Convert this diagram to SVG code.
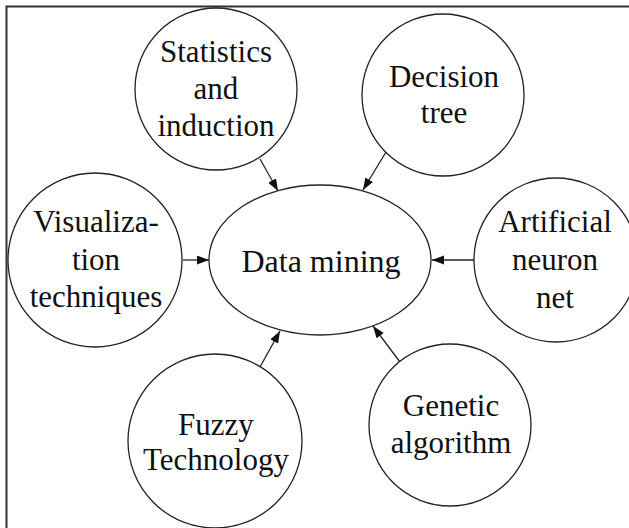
<svg xmlns="http://www.w3.org/2000/svg" width="629" height="528" viewBox="0 0 629 528">
  <style>
    .node { fill: #ffffff; stroke: #222222; stroke-width: 1.3; }
    .label { font-size: 31px; fill: #111111; text-anchor: middle; }
    .edge { stroke: #222222; stroke-width: 1.3; fill: none; marker-end: url(#arrow); }
    .frame { stroke: #333333; stroke-width: 2; fill: none; }
  </style>
  <defs>
    <marker id="arrow" markerUnits="userSpaceOnUse" markerWidth="13" markerHeight="10" refX="12" refY="4.5" orient="auto">
      <path d="M0,0 L12,4.5 L0,9 Z" fill="#111111"/>
    </marker>
  </defs>

  <rect width="629" height="528" fill="#ffffff"/>
  <!-- outer frame (top and left sides) -->
  <path class="frame" d="M6.5,528 L6.5,6.5 L629,6.5"/>

  <g id="connectors">
    <line class="edge" x1="260" y1="159" x2="278" y2="191"/>
    <line class="edge" x1="386" y1="152" x2="363" y2="190"/>
    <line class="edge" x1="183" y1="260" x2="209" y2="260"/>
    <line class="edge" x1="474" y1="260" x2="432" y2="260"/>
    <line class="edge" x1="260" y1="367" x2="280" y2="331"/>
    <line class="edge" x1="400" y1="362" x2="373" y2="326"/>
  </g>

  <g id="data-mining">
    <ellipse class="node" cx="320" cy="260" rx="111" ry="75"/>
    <text class="label" x="321" y="272" style="font-family:'Liberation Serif',serif;font-size:32px">Data mining</text>
  </g>

  <g id="statistics">
    <circle class="node" cx="216" cy="89" r="81"/>
    <text class="label" x="216" y="62" style="font-family:'Liberation Serif',serif">Statistics</text>
    <text class="label" x="216" y="99" style="font-family:'Liberation Serif',serif">and</text>
    <text class="label" x="216" y="136" style="font-family:'Liberation Serif',serif">induction</text>
  </g>

  <g id="decision-tree">
    <circle class="node" cx="443" cy="95" r="81"/>
    <text class="label" x="444" y="87" style="font-family:'Liberation Serif',serif">Decision</text>
    <text class="label" x="444" y="123" style="font-family:'Liberation Serif',serif">tree</text>
  </g>

  <g id="visualization">
    <circle class="node" cx="95" cy="260" r="87"/>
    <text class="label" x="96" y="232" style="font-family:'Liberation Serif',serif">Visualiza-</text>
    <text class="label" x="96" y="270" style="font-family:'Liberation Serif',serif">tion</text>
    <text class="label" x="96" y="307" style="font-family:'Liberation Serif',serif">techniques</text>
  </g>

  <g id="neural-net">
    <circle class="node" cx="556" cy="260" r="82"/>
    <text class="label" x="555" y="232" style="font-family:'Liberation Serif',serif">Artificial</text>
    <text class="label" x="555" y="270" style="font-family:'Liberation Serif',serif">neuron</text>
    <text class="label" x="555" y="308" style="font-family:'Liberation Serif',serif">net</text>
  </g>

  <g id="fuzzy">
    <circle class="node" cx="215" cy="441" r="87"/>
    <text class="label" x="216" y="435" style="font-family:'Liberation Serif',serif">Fuzzy</text>
    <text class="label" x="216" y="470" style="font-family:'Liberation Serif',serif">Technology</text>
  </g>

  <g id="genetic">
    <circle class="node" cx="450" cy="425" r="81"/>
    <text class="label" x="451" y="416" style="font-family:'Liberation Serif',serif">Genetic</text>
    <text class="label" x="451" y="453" style="font-family:'Liberation Serif',serif">algorithm</text>
  </g>
</svg>
